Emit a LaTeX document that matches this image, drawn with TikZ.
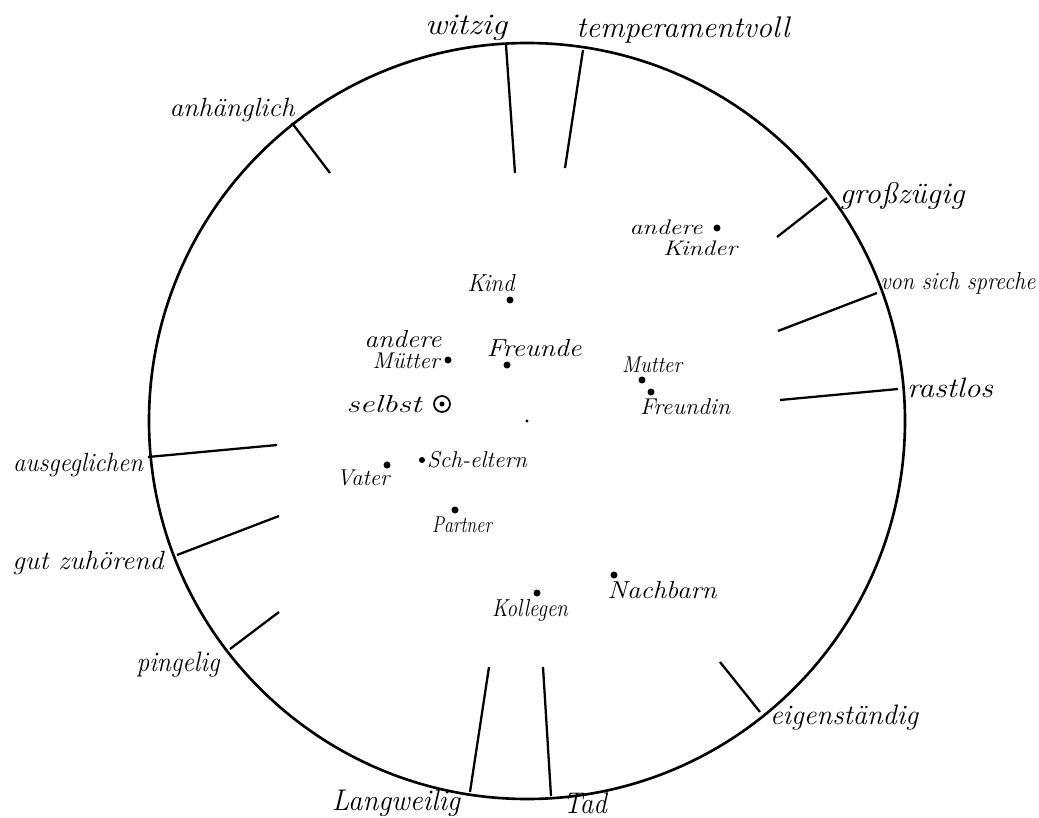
\documentclass[tikz,border=0pt]{standalone}
\usepackage{fontspec}
\newlength\px \setlength\px{0.02cm}
\newcommand\hw[3][15]{\resizebox{#2\px}{\height}{\fontsize{#1}{#1}\selectfont\itshape #3}}
\begin{document}
\begin{tikzpicture}[x=0.02cm,y=-0.02cm,
  lbl/.style={inner sep=0pt,outer sep=0pt},
  spoke/.style={line width=1.3pt},
  ring/.style={line width=1.5pt},
  pt/.style={circle,fill=black,inner sep=0pt,minimum size=7\px}]
\useasboundingbox[fill=white] (0,0) rectangle (1039,818);
% circle
\coordinate (c) at (527,421);
\draw[ring] (c) circle[radius=378];
\fill (c) circle[radius=1.6];
% spokes: outer points and inner ends
\coordinate (o1) at (292,123);  \coordinate (i1) at (330,173);
\coordinate (o2) at (506,45);   \coordinate (i2) at (515,173);
\coordinate (o3) at (583,50);   \coordinate (i3) at (565,168);
\coordinate (o4) at (827,198);  \coordinate (i4) at (777,237);
\coordinate (o5) at (877,293);  \coordinate (i5) at (778,331);
\coordinate (o6) at (898,389);  \coordinate (i6) at (780,400);
\coordinate (o7) at (148,457);  \coordinate (i7) at (277,445);
\coordinate (o8) at (177,555);  \coordinate (i8) at (279,516);
\coordinate (o9) at (230,649);  \coordinate (i9) at (279,612);
\coordinate (o10) at (470,792); \coordinate (i10) at (489,667);
\coordinate (o11) at (551,796); \coordinate (i11) at (543,667);
\coordinate (o12) at (760,712); \coordinate (i12) at (720,662);
\foreach \k in {1,...,12} {\draw[spoke] (o\k) -- (i\k);}
% outer labels
\node[lbl] (witzig) at (466,28) {\hw[17]{82}{witzig}};
\node[lbl] (temp) at (683,30) {\hw[17]{213}{temperamentvoll}};
\node[lbl] (anh) at (232,110) {\hw[15]{125}{anhänglich}};
\node[lbl] (gross) at (902,196) {\hw[17]{125}{großzügig}};
\node[lbl] (vss) at (958,283) {\hw[14]{155}{von sich spreche}};
\node[lbl] (rast) at (950,388) {\hw[16]{86}{rastlos}};
\node[lbl] (ausg) at (78,465) {\hw[15]{130}{ausgeglichen}};
\node[lbl] (gut) at (88,563) {\hw[15]{151}{gut zuhörend}};
\node[lbl] (ping) at (178,665) {\hw[16]{83}{pingelig}};
\node[lbl] (lang) at (396,803) {\hw[17]{128}{Langweilig}};
\node[lbl] (tad) at (585,803) {\hw[17]{44}{Tad}};
\node[lbl] (eigen) at (844,718) {\hw[16]{148}{eigenständig}};
% inner points and labels
\node[pt] (pKinder) at (717,228) {};
\node[lbl] (and1) at (666,227) {\hw[12]{73}{andere}};
\node[lbl] (kinder) at (700,248) {\hw[12]{74}{Kinder}};
\node[pt] (pKind) at (510,300) {};
\node[lbl] (kind) at (491,283) {\hw[14]{47}{Kind}};
\node[pt] (pMuetter) at (448,360) {};
\node[lbl] (and2) at (403,339) {\hw[14]{77}{andere}};
\node[lbl] (muetter) at (406,361) {\hw[13]{67}{Mütter}};
\node[pt] (pFreunde) at (507,365) {};
\node[lbl] (freunde) at (534,348) {\hw[14]{95}{Freunde}};
\node[draw,circle,line width=1pt,minimum size=16\px,inner sep=0pt] (pSelbst) at (442,404) {};
\fill (pSelbst) circle[radius=2.5];
\node[lbl] (selbst) at (384,404) {\hw[14]{75}{selbst}};
\node[pt,minimum size=6\px] (pSch) at (422,460) {};
\node[lbl] (sch) at (477,460) {\hw[13]{100}{Sch-eltern}};
\node[pt] (pVater) at (387,465) {};
\node[lbl] (vater) at (363,478) {\hw[13]{53}{Vater}};
\node[pt] (pPartner) at (455,510) {};
\node[lbl] (partner) at (462,525) {\hw[13]{60}{Partner}};
\node[pt] (pMutter) at (642,380) {};
\node[lbl] (mutter) at (652,365) {\hw[13]{60}{Mutter}};
\node[pt] (pFreundin) at (651,392) {};
\node[lbl] (freundin) at (685,407) {\hw[13]{90}{Freundin}};
\node[pt] (pKollegen) at (537,593) {};
\node[lbl] (kollegen) at (530,610) {\hw[14]{76}{Kollegen}};
\node[pt] (pNachbarn) at (614,575) {};
\node[lbl] (nachbarn) at (662,590) {\hw[14]{109}{Nachbarn}};
\end{tikzpicture}
\end{document}
